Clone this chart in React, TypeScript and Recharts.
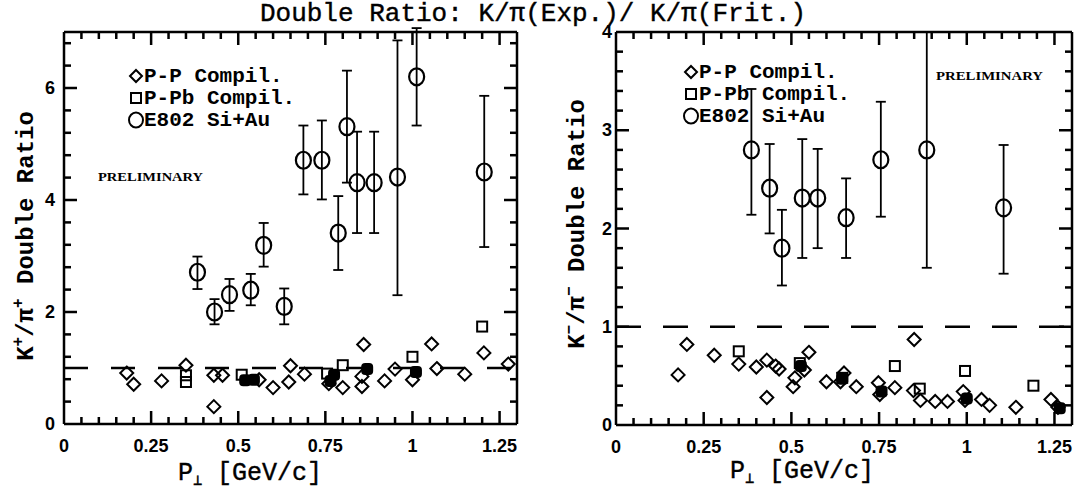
import { ErrorBar, ReferenceLine, Scatter, ScatterChart, XAxis, YAxis } from "recharts"

// x axis (both panels)
const xTicks = [
  0.05, 0.1, 0.15, 0.2, 0.25, 0.3, 0.35, 0.4, 0.45, 0.5, 0.55, 0.6, 0.65, 0.7, 0.75, 0.8, 0.85, 0.9,
  0.95, 1, 1.05, 1.1, 1.15, 1.2, 1.25,
]
const xMajor = [0, 0.25, 0.5, 0.75, 1, 1.25]
const xLabels = ["0", "0.25", "0.5", "0.75", "1", "1.25"]

// left panel: K+/pi+
const yTicksL = [0.4, 0.8, 1.2, 1.6, 2, 2.4, 2.8, 3.2, 3.6, 4, 4.4, 4.8, 5.2, 5.6, 6, 6.4, 6.8]
const yMajorL = [0, 2, 4, 6]
const yLabelsL = ["0", "2", "4", "6"]

const ppLeft = [
  [0.18, 0.91], [0.2, 0.71], [0.28, 0.77], [0.35, 1.05], [0.43, 0.31], [0.43, 0.87], [0.455, 0.87],
  [0.56, 0.79], [0.6, 0.65], [0.645, 0.75], [0.65, 1.04], [0.69, 0.89], [0.76, 0.72], [0.8, 0.65],
  [0.855, 0.67], [0.855, 0.85], [0.86, 1.42], [0.92, 0.77], [0.95, 0.98], [1.0, 0.79], [1.055, 1.43],
  [1.07, 0.99], [1.15, 0.89], [1.205, 1.27], [1.275, 1.07],
]
const ppbLeft = [[0.35, 0.75], [0.35, 0.87], [0.51, 0.88], [0.755, 0.9], [0.8, 1.05], [1.0, 1.2], [1.2, 1.74]]
const blobLeft = [[0.52, 0.78], [0.545, 0.79], [0.765, 0.77], [0.775, 0.88], [0.87, 0.98], [1.01, 0.93]]
// x, y, lower, upper
const e802Left = [
  [0.383, 2.71, 2.41, 2.99], [0.432, 2.0, 1.78, 2.23], [0.475, 2.31, 2.02, 2.59], [0.536, 2.39, 2.12, 2.68],
  [0.573, 3.19, 2.81, 3.59], [0.632, 2.1, 1.78, 2.42], [0.687, 4.71, 4.1, 5.33], [0.74, 4.71, 4.01, 5.42],
  [0.787, 3.41, 2.75, 4.07], [0.812, 5.31, 4.31, 6.31], [0.841, 4.31, 3.41, 5.22], [0.89, 4.31, 3.41, 5.22],
  [0.957, 4.41, 2.3, 6.85], [1.012, 6.2, 5.33, 7.07], [1.206, 4.5, 3.16, 5.86],
]

// right panel: K-/pi-
const yTicksR = [0.2, 0.4, 0.6, 0.8, 1, 1.2, 1.4, 1.6, 1.8, 2, 2.2, 2.4, 2.6, 2.8, 3, 3.2, 3.4, 3.6, 3.8]
const yMajorR = [0, 1, 2, 3, 4]
const yLabelsR = ["0", "1", "2", "3", "4"]

const ppRight = [
  [0.177, 0.51], [0.202, 0.82], [0.28, 0.71], [0.35, 0.62], [0.4, 0.59], [0.43, 0.28], [0.43, 0.66],
  [0.455, 0.6], [0.465, 0.57], [0.505, 0.39], [0.51, 0.48], [0.537, 0.56], [0.55, 0.74], [0.6, 0.44],
  [0.64, 0.44], [0.65, 0.53], [0.685, 0.39], [0.748, 0.43], [0.752, 0.31], [0.795, 0.38], [0.85, 0.87],
  [0.848, 0.35], [0.868, 0.25], [0.91, 0.24], [0.945, 0.24], [0.99, 0.34], [0.995, 0.25], [1.042, 0.26],
  [1.065, 0.2], [1.14, 0.18], [1.24, 0.26], [1.26, 0.18],
]
const ppbRight = [[0.35, 0.75], [0.524, 0.63], [0.645, 0.48], [0.795, 0.6], [0.866, 0.37], [0.995, 0.55], [1.19, 0.4]]
const blobRight = [[0.527, 0.6], [0.645, 0.47], [0.757, 0.34], [1.0, 0.27], [1.265, 0.17]]
const e802Right = [
  [0.386, 2.8, 2.14, 3.42], [0.438, 2.41, 1.95, 2.86], [0.473, 1.8, 1.42, 2.19], [0.531, 2.31, 1.7, 2.91],
  [0.575, 2.31, 1.8, 2.81], [0.656, 2.11, 1.7, 2.51], [0.755, 2.7, 2.12, 3.29], [0.886, 2.8, 1.6, 4.0],
  [1.105, 2.21, 1.54, 2.85],
]

const H = 497
const X_MAX = 1.3
const mono = "'Liberation Mono', 'Courier New', monospace"
const sans = "'Liberation Sans', Arial, sans-serif"

const pts = (a: number[][]) => a.map(([x, y]) => ({ x, y }))
const withErr = (a: number[][]) => a.map(([x, y, lo, hi]) => ({ x, y, err: [y - lo, hi - y] }))
const isMajor = (majors: number[], v: number) => majors.some((m) => Math.abs(m - v) < 1e-6)

function Diamond(p: any) {
  const { cx, cy } = p
  const r = 6.5
  return (
    <polygon
      points={`${cx},${cy - r} ${cx + r},${cy} ${cx},${cy + r} ${cx - r},${cy}`}
      fill="none"
      stroke="#000"
      strokeWidth={2}
    />
  )
}

function Square(p: any) {
  const { cx, cy } = p
  return <rect x={cx - 5} y={cy - 5} width={10} height={10} fill="none" stroke="#000" strokeWidth={2} />
}

function Blob(p: any) {
  const { cx, cy } = p
  return <rect x={cx - 6} y={cy - 6} width={12} height={12} rx={4} fill="#000" />
}

function Ring(p: any) {
  const { cx, cy } = p
  return <ellipse cx={cx} cy={cy} rx={7.5} ry={8.5} fill="none" stroke="#000" strokeWidth={2.2} />
}

// inward frame tick marks, placed through the chart's own scales
function tickShape(dx: number, dy: number) {
  return (p: any) => {
    const len = p.payload && p.payload.major ? 13 : 7
    const cx = Number(p.cx)
    const cy = Number(p.cy)
    return (
      <rect
        x={dx === 0 ? cx - 1.25 : dx > 0 ? cx : cx - len}
        y={dy === 0 ? cy - 1.25 : dy > 0 ? cy : cy - len}
        width={dx === 0 ? 2.5 : len}
        height={dy === 0 ? 2.5 : len}
        fill="#000"
      />
    )
  }
}

function labelTick(side: "bottom" | "left", majors: number[], labels: string[], gap = 8) {
  return (props: any) => {
    const x = Number(props.x)
    const y = Number(props.y)
    const mi = majors.findIndex((m) => Math.abs(m - props.payload.value) < 1e-6)
    if (mi < 0) return <g />
    if (side === "bottom")
      return (
        <text x={x} y={y + 28} textAnchor="middle" fontFamily={sans} fontWeight="bold" fontSize={18} fill="#000">
          {labels[mi]}
        </text>
      )
    return (
      <text x={x - gap} y={y + 6} textAnchor="end" fontFamily={sans} fontWeight="bold" fontSize={18} fill="#000">
        {labels[mi]}
      </text>
    )
  }
}

type PanelProps = {
  left: number
  width: number
  plotLeft: number
  plotRight: number
  plotTop: number
  plotBottom: number
  yMax: number
  yTicks: number[]
  yMajor: number[]
  yLabels: string[]
  gap: number
  pp: number[][]
  ppb: number[][]
  blob: number[][]
  e802: number[][]
  dash: string
}

function Panel(p: PanelProps) {
  const axisLine = { stroke: "#000", strokeWidth: 2.5 }
  const common = { interval: 0 as const, tickSize: 0, tickMargin: 0, axisLine, tickLine: false, allowDataOverflow: true }
  const bottomTicks = xTicks.map((v) => ({ x: v, y: 0, major: isMajor(xMajor, v) }))
  const topTicks = xTicks.map((v) => ({ x: v, y: p.yMax, major: isMajor(xMajor, v) }))
  const leftTicks = p.yTicks.map((v) => ({ x: 0, y: v, major: isMajor(p.yMajor, v) }))
  const rightTicks = p.yTicks.map((v) => ({ x: X_MAX, y: v, major: isMajor(p.yMajor, v) }))
  return (
    <div style={{ position: "absolute", left: p.left, top: 0 }}>
      <ScatterChart width={p.width} height={H} margin={{ top: 0, right: 0, bottom: 0, left: 0 }}>
        <XAxis
          xAxisId="b"
          type="number"
          dataKey="x"
          domain={[0, X_MAX]}
          ticks={xMajor}
          tick={labelTick("bottom", xMajor, xLabels)}
          height={H - p.plotBottom}
          {...common}
        />
        <XAxis xAxisId="t" orientation="top" type="number" dataKey="x" domain={[0, X_MAX]} tick={false} height={p.plotTop} {...common} />
        <YAxis
          yAxisId="l"
          type="number"
          dataKey="y"
          domain={[0, p.yMax]}
          ticks={p.yMajor}
          tick={labelTick("left", p.yMajor, p.yLabels, p.gap)}
          width={p.plotLeft}
          {...common}
        />
        <YAxis
          yAxisId="r"
          orientation="right"
          type="number"
          dataKey="y"
          domain={[0, p.yMax]}
          tick={false}
          width={p.width - p.plotRight}
          {...common}
        />
        <ReferenceLine xAxisId="b" yAxisId="l" y={1} stroke="#000" strokeWidth={2.5} strokeDasharray={p.dash} />
        <Scatter xAxisId="b" yAxisId="l" data={bottomTicks} shape={tickShape(0, -1)} isAnimationActive={false} />
        <Scatter xAxisId="b" yAxisId="l" data={topTicks} shape={tickShape(0, 1)} isAnimationActive={false} />
        <Scatter xAxisId="b" yAxisId="l" data={leftTicks} shape={tickShape(1, 0)} isAnimationActive={false} />
        <Scatter xAxisId="b" yAxisId="l" data={rightTicks} shape={tickShape(-1, 0)} isAnimationActive={false} />
        <Scatter xAxisId="b" yAxisId="l" data={pts(p.pp)} shape={Diamond} isAnimationActive={false} />
        <Scatter xAxisId="b" yAxisId="l" data={pts(p.ppb)} shape={Square} isAnimationActive={false} />
        <Scatter xAxisId="b" yAxisId="l" data={pts(p.blob)} shape={Blob} isAnimationActive={false} />
        <Scatter xAxisId="b" yAxisId="l" data={withErr(p.e802)} shape={Ring} isAnimationActive={false}>
          <ErrorBar dataKey="err" direction="y" width={5} stroke="#000" strokeWidth={1.8} isAnimationActive={false} />
        </Scatter>
      </ScatterChart>
    </div>
  )
}

function LegendRows({ x, y, step }: { x: number; y: number; step: number }) {
  const rows = ["P-P Compil.", "P-Pb Compil.", "E802 Si+Au"]
  return (
    <g>
      <polygon points={`${x},${y - 6} ${x + 6},${y} ${x},${y + 6} ${x - 6},${y}`} fill="none" stroke="#000" strokeWidth={2} />
      <rect x={x - 5} y={y + step - 5} width={10} height={10} fill="none" stroke="#000" strokeWidth={2} />
      <ellipse cx={x} cy={y + 2 * step} rx={7} ry={7.5} fill="none" stroke="#000" strokeWidth={2} />
      {rows.map((r, i) => (
        <text key={r} x={x + 8} y={y + i * step + 6} fontFamily={mono} fontWeight="bold" fontSize={21} fill="#000">
          {r}
        </text>
      ))}
    </g>
  )
}

const leftPanel: PanelProps = {
  left: 0,
  width: 560,
  plotLeft: 64,
  plotRight: 517,
  plotTop: 32,
  plotBottom: 424,
  yMax: 7,
  yTicks: yTicksL,
  yMajor: yMajorL,
  yLabels: yLabelsL,
  gap: 9,
  pp: ppLeft,
  ppb: ppbLeft,
  blob: blobLeft,
  e802: e802Left,
  dash: "24 23",
}

const rightPanel: PanelProps = {
  left: 540,
  width: 535,
  plotLeft: 76,
  plotRight: 532,
  plotTop: 32,
  plotBottom: 425,
  yMax: 4,
  yTicks: yTicksR,
  yMajor: yMajorR,
  yLabels: yLabelsR,
  gap: 4,
  pp: ppRight,
  ppb: ppbRight,
  blob: blobRight,
  e802: e802Right,
  dash: "25 22",
}

export default function App() {
  return (
    <div style={{ position: "absolute", left: 0, top: 0, width: 1075, height: H, background: "#fff", overflow: "hidden" }}>
      <Panel {...leftPanel} />
      <Panel {...rightPanel} />
      <svg width={1075} height={H} style={{ position: "absolute", left: 0, top: 0, pointerEvents: "none" }}>
        <text x={533} y={21} textAnchor="middle" fontFamily={mono} fontSize={26} fill="#000" stroke="#000" strokeWidth={0.4}>
          Double Ratio: K/π(Exp.)/ K/π(Frit.)
        </text>
        <text x={250} y={480} textAnchor="middle" fontFamily={mono} fontSize={25} fill="#000" stroke="#000" strokeWidth={0.4}>
          P<tspan fontSize={15} dy={5}>⊥</tspan>
          <tspan dy={-5}> [GeV/c]</tspan>
        </text>
        <text x={802} y={478} textAnchor="middle" fontFamily={mono} fontSize={25} fill="#000" stroke="#000" strokeWidth={0.4}>
          P<tspan fontSize={15} dy={5}>⊥</tspan>
          <tspan dy={-5}> [GeV/c]</tspan>
        </text>
        <text
          transform="translate(33,236) rotate(-90)"
          textAnchor="middle"
          fontFamily={mono}
          fontWeight="bold"
          fontSize={24}
          fill="#000"
        >
          K<tspan fontSize={16} dy={-10}>+</tspan>
          <tspan dy={10}>/π</tspan>
          <tspan fontSize={16} dy={-10}>+</tspan>
          <tspan dy={10}> Double Ratio</tspan>
        </text>
        <text
          transform="translate(584,224) rotate(-90)"
          textAnchor="middle"
          fontFamily={mono}
          fontWeight="bold"
          fontSize={24}
          fill="#000"
        >
          K<tspan fontSize={16} dy={-10}>−</tspan>
          <tspan dy={10}>/π</tspan>
          <tspan fontSize={16} dy={-10}>−</tspan>
          <tspan dy={10}> Double Ratio</tspan>
        </text>
        <LegendRows x={136} y={76} step={22} />
        <LegendRows x={691} y={72} step={22} />
        <text x={98} y={181} fontFamily="'Liberation Serif', serif" fontWeight="bold" fontSize={13} textLength={105} lengthAdjust="spacingAndGlyphs" fill="#000">
          PRELIMINARY
        </text>
        <text x={936} y={80} fontFamily="'Liberation Serif', serif" fontWeight="bold" fontSize={13} textLength={107} lengthAdjust="spacingAndGlyphs" fill="#000">
          PRELIMINARY
        </text>
      </svg>
    </div>
  )
}
